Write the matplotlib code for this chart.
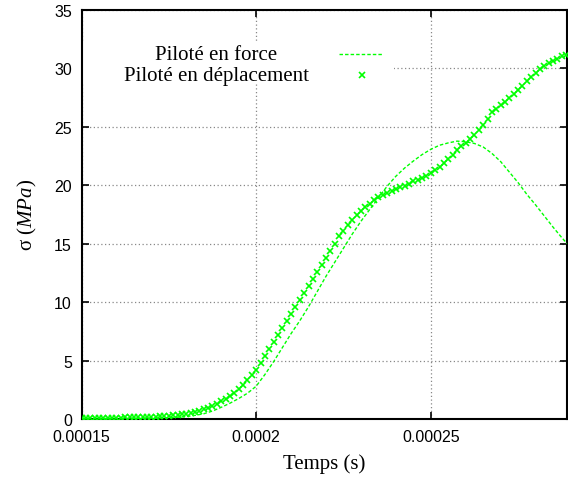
import numpy as np
import matplotlib
matplotlib.use('Agg')
import matplotlib.pyplot as plt
from matplotlib.lines import Line2D
from matplotlib.patches import Rectangle
from matplotlib.ticker import MultipleLocator, FormatStrFormatter

# stress (MPa)
# displacement-driven run, one value every 1.25 us from t = 0.00015 s
sigma_dep = [
    0.10, 0.10, 0.10, 0.10, 0.10, 0.11, 0.11, 0.11, 0.12, 0.12,
    0.13, 0.13, 0.14, 0.15, 0.16, 0.17, 0.18, 0.20, 0.22, 0.24,
    0.27, 0.30, 0.34, 0.39, 0.45, 0.52, 0.60, 0.70, 0.82, 0.96,
    1.12, 1.30, 1.50, 1.73, 1.98, 2.26, 2.57, 2.92, 3.30, 3.72,
    4.2, 4.8, 5.4, 6.0, 6.6, 7.2, 7.8, 8.4, 9.0, 9.6,
    10.2, 10.8, 11.4, 12.0, 12.6, 13.2, 13.8, 14.4, 15.0, 15.6,
    16.1, 16.6, 17.0, 17.4, 17.8, 18.1, 18.4, 18.7, 18.95, 19.15,
    19.35, 19.5, 19.65, 19.8, 19.95, 20.1, 20.3, 20.45, 20.6, 20.8,
    21.0, 21.25, 21.55, 21.9, 22.25, 22.6, 22.95, 23.3, 23.55, 23.9,
    24.3, 24.7, 25.1, 25.6, 26.2, 26.5, 26.8, 27.1, 27.4, 27.8,
    28.15, 28.5, 28.85, 29.2, 29.55, 29.9, 30.15, 30.4, 30.6, 30.8,
    31.0, 31.15,
]
dt_dep = 1.25e-6

# force-driven run, one value every 2.5 us from t = 0.00015 s, plus last point
sigma_force = [
    0.05, 0.05, 0.05, 0.05, 0.05, 0.05, 0.06, 0.06, 0.07, 0.09,
    0.11, 0.15, 0.21, 0.31, 0.45, 0.68, 1.0, 1.35, 1.75, 2.2,
    2.8, 3.8, 4.9, 6.1, 7.3, 8.4, 9.6, 10.9, 12.2, 13.4,
    14.6, 15.8, 16.9, 17.9, 18.9, 19.9, 20.75, 21.45, 22.05, 22.6,
    23.05, 23.4, 23.6, 23.75, 23.7, 23.55, 23.25, 22.7, 22.0, 21.1,
    20.2, 19.2, 18.3, 17.35, 16.4, 15.5,
]
dt_force = 2.5e-6
t_end = 0.000289
sigma_end = 15.0

t0 = 0.00015
t_dep = t0 + dt_dep * np.arange(len(sigma_dep))
t_force = np.append(t0 + dt_force * np.arange(len(sigma_force)), t_end)
sigma_force = np.append(sigma_force, sigma_end)

labels = ['Piloté en force', 'Piloté en déplacement']

GREEN = '#00ff00'
SERIF = 'Liberation Serif'
SANS = 'Liberation Sans'

plt.rcParams['font.family'] = SANS
plt.rcParams['mathtext.fontset'] = 'custom'
plt.rcParams['mathtext.rm'] = SERIF
plt.rcParams['mathtext.it'] = SERIF + ':italic'

fig = plt.figure(figsize=(5.68, 4.89), dpi=100)
ax = fig.add_axes([0.1435, 0.1411, 0.8548, 0.8374])

ax.plot(t_force, sigma_force, color=GREEN, lw=1.0, ls=(0, (2.5, 1.5)), zorder=3)
ax.plot(t_dep, sigma_dep, ls='none', marker='x', ms=4.0, mew=1.2,
        color=GREEN, zorder=4)

ax.set_xlim(t0, t_end)
ax.set_ylim(0, 35)
ax.xaxis.set_major_locator(MultipleLocator(0.00005))
ax.xaxis.set_major_formatter(FormatStrFormatter('%g'))
ax.yaxis.set_major_locator(MultipleLocator(5))

ax.grid(True, color='#888888', ls=(0, (1, 2)), lw=0.9, zorder=1)
ax.tick_params(direction='in', length=5, width=1.2, top=True, right=True,
               labelsize=11.5, pad=7, colors='black')
for s in ax.spines.values():
    s.set_linewidth(1.5)

ax.set_xlabel('Temps (s)', family=SERIF, fontsize=15, labelpad=7)
ax.set_ylabel(r'σ ($MPa$)', family=SERIF, fontsize=15, labelpad=11)

# opaque key with no border, text centred, samples on the right
ax.add_patch(Rectangle((0.003, 0.823), 0.64, 0.098, transform=ax.transAxes,
                       facecolor='white', edgecolor='none', zorder=2))
ax.text(0.278, 0.891, labels[0], transform=ax.transAxes, ha='center',
        va='center', family=SERIF, fontsize=15, zorder=5)
ax.text(0.278, 0.840, labels[1], transform=ax.transAxes, ha='center',
        va='center', family=SERIF, fontsize=15, zorder=5)
ax.add_line(Line2D([0.530, 0.621], [0.891, 0.891], transform=ax.transAxes,
                   color=GREEN, lw=1.0, ls=(0, (2.5, 1.5)), zorder=5))
ax.add_line(Line2D([0.578], [0.840], transform=ax.transAxes, ls='none',
                   marker='x', ms=4.0, mew=1.2, color=GREEN, zorder=5))

fig.savefig('out.png', dpi=100)
